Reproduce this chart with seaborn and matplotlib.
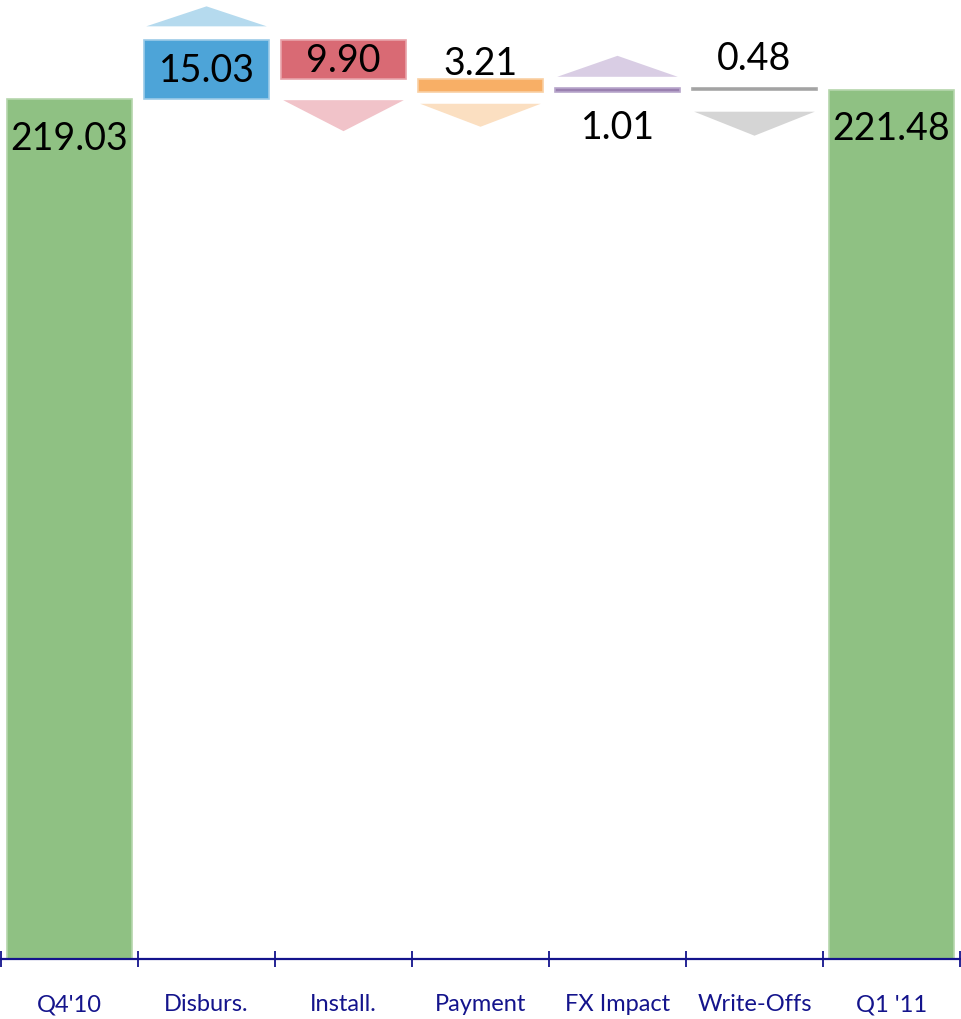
import numpy as np
import pandas as pd
import matplotlib
matplotlib.use("Agg")
import matplotlib.pyplot as plt
import seaborn as sns

# Portfolio bridge: opening balance, movements, closing balance
categories = ["Q4'10", "Disburs.", "Install.", "Payment", "FX Impact", "Write-Offs", "Q1 '11"]
opening = 219.03
movements = [15.03, -9.90, -3.21, 1.01, -0.48]
closing = 221.48
value_labels = ["219.03", "15.03", "9.90", "3.21", "1.01", "0.48", "221.48"]

# Styling
bar_colors = ["#8FC183", "#4DA4D8", "#D96A74", "#F8AF66", "#9A80B0", "#8C8C8C", "#8FC183"]
edge_colors = ["#B5D6AC", "#9CCBE8", "#E8A3AA", "#F9CFA3", "#B8A6CB", "#A8A8A8", "#B5D6AC"]
arrow_colors = ["#B5DAEE", "#F1C3C9", "#FBDFC1", "#D9CDE4", "#D5D5D5"]
# arrow gap from bar / arrow height, in pixels
arrow_gap = [14, 21, 12, 11, 22]
arrow_height = [20, 31, 23, 21, 24]
# label vertical offsets (pixels) relative to reference edge
label_mode = ["top_in", "center", "center", "above", "below", "above", "top_in"]
label_off = [39, 0, 0, 16, 35, 30, 38]

navy = "#14148C"

sns.set_theme(style="white")
plt.rcParams["font.family"] = ["Lato", "DejaVu Sans"]

W, H, DPI = 961, 1020, 100
fig = plt.figure(figsize=(W / DPI, H / DPI), dpi=DPI)
ax_bottom_px = 60.5
ax = fig.add_axes([1 / W, ax_bottom_px / H, 959 / W, (H - ax_bottom_px) / H])

# Waterfall geometry from the values
levels = np.concatenate([[opening], opening + np.cumsum(movements)])
bottoms = [0.0]
heights = [opening]
for i, d in enumerate(movements):
    start = levels[i]
    bottoms.append(min(start, start + d))
    heights.append(abs(d))
bottoms.append(0.0)
heights.append(closing)

df = pd.DataFrame({"cat": categories, "height": heights, "bottom": bottoms})

ymax = 244.6
sns.barplot(data=df, x="cat", y="height", hue="cat", hue_order=categories,
            order=categories, palette=bar_colors, width=0.91, legend=False,
            ax=ax, linewidth=1.2, saturation=1)

# Float each bar on its running base
bars = sorted(ax.patches, key=lambda p: p.get_x())
for patch, b, ec in zip(bars, bottoms, edge_colors):
    patch.set_y(b)
    patch.set_edgecolor(ec)

ax.set_xlim(-0.5, len(categories) - 0.5)
ax.set_ylim(0, ymax)

ax_h_px = H - ax_bottom_px
ppu = ax_h_px / ymax  # pixels per data unit

# Arrow triangles for movements
half_w = 0.44
for i, d in enumerate(movements):
    xi = i + 1
    top = bottoms[xi] + heights[xi]
    bot = bottoms[xi]
    g = arrow_gap[i] / ppu
    h = arrow_height[i] / ppu
    if d > 0:
        base = top + g
        tip = base + h
    else:
        base = bot - g
        tip = base - h
    ax.fill([xi - half_w, xi + half_w, xi], [base, base, tip],
            color=arrow_colors[i], linewidth=0, zorder=3)

# Value labels
for i, lab in enumerate(value_labels):
    top = bottoms[i] + heights[i]
    bot = bottoms[i]
    mode = label_mode[i]
    if mode == "top_in":
        y, off = top, -label_off[i]
    elif mode == "center":
        y, off = bot + heights[i] / 2, 0
    elif mode == "above":
        y, off = top, label_off[i]
    else:
        y, off = bot, -label_off[i]
    ax.annotate(lab, (i, y), xytext=(0, off * 0.72), textcoords="offset points",
                ha="center", va="center", fontsize=27, color="black", zorder=5)

# Axis styling
for s in ["top", "left", "right"]:
    ax.spines[s].set_visible(False)
ax.spines["bottom"].set_color(navy)
ax.spines["bottom"].set_linewidth(1.6)
ax.set_yticks([])
ax.set_xlabel("")
ax.set_ylabel("")
ax.set_xticks(range(len(categories)))
ax.set_xticklabels(categories, fontsize=17, color=navy)
ax.tick_params(axis="x", which="major", length=0, pad=25)
ax.set_xticks(np.arange(-0.5, len(categories)), minor=True)
ax.tick_params(axis="x", which="minor", direction="inout", length=12,
               width=1.3, color=navy, bottom=True)
ax.patch.set_alpha(0)

fig.savefig("out.png", dpi=DPI)
